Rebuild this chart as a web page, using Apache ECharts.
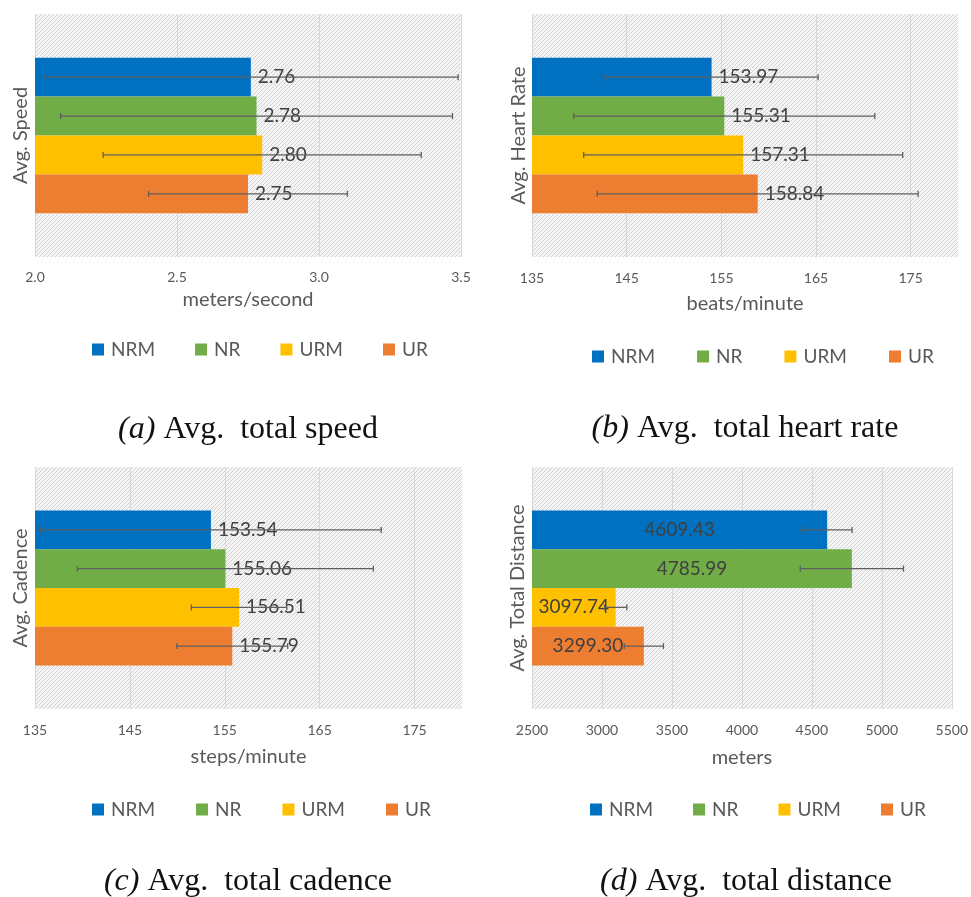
<!DOCTYPE html>
<html>
<head>
<meta charset="utf-8">
<script src="https://cdn.jsdelivr.net/npm/echarts@6/dist/echarts.min.js"></script>
<style>
html,body{margin:0;padding:0;background:#fff;}
#main{width:971px;height:897px;}
</style>
</head>
<body>
<div id="main"></div>
<script>
// ---------- data ----------
const groups = ['NRM', 'NR', 'URM', 'UR'];
const speedValues = [2.76, 2.78, 2.80, 2.75];
const speedErrors = [0.73, 0.69, 0.56, 0.35];
const heartValues = [153.97, 155.31, 157.31, 158.84];
const heartErrors = [11.25, 15.9, 16.85, 16.95];
const cadenceValues = [153.54, 155.06, 156.51, 155.79];
const cadenceErrors = [17.95, 15.6, 5.03, 5.84];
const distanceValues = [4609.43, 4785.99, 3097.74, 3299.30];
const distanceErrors = [178, 369, 80, 140];
const speedTicks = ['2.0', '2.5', '3.0', '3.5'];
const bpmTicks = ['135', '145', '155', '165', '175'];
const distanceTicks = ['2500', '3000', '3500', '4000', '4500', '5000', '5500'];
const yTitles = ['Avg. Speed', 'Avg. Heart Rate', 'Avg. Cadence', 'Avg. Total Distance'];
const xTitles = ['meters/second', 'beats/minute', 'steps/minute', 'meters'];
const captionTags = ['(a)', '(b)', '(c)', '(d)'];
const captionTexts = ['Avg.  total speed', 'Avg.  total heart rate', 'Avg.  total cadence', 'Avg.  total distance'];

// ---------- styling ----------
const colors = ['#0070C0', '#70AD47', '#FFC000', '#ED7D31'];
const FONT = 'Lato';
const GAP = 0.36;

const pat = document.createElement('canvas');
pat.width = 4; pat.height = 4;
const pctx = pat.getContext('2d');
pctx.fillStyle = '#f5f5f5'; pctx.fillRect(0, 0, 4, 4);
pctx.fillStyle = '#d2d2d2';
for (let i = 0; i < 4; i++) pctx.fillRect(i, 3 - i, 1, 1);
const hatch = {image: pat, repeat: 'repeat'};

const panels = [
  {values: speedValues, errors: speedErrors, ticks: speedTicks, min: 2.0, max: 3.5, interval: 0.5, step: 0.5,
   grid: {left: 35, top: 14, width: 426, height: 243}, nameGapX: 33, nameGapY: 4, margin: 13, inside: false,
   legend: {left: 92, top: 340, gap: 40}, caption: {x: 248, y: 430}},
  {values: heartValues, errors: heartErrors, ticks: bpmTicks, min: 135, max: 180, interval: 5, step: 10,
   grid: {left: 532, top: 14, width: 426, height: 243}, nameGapX: 37, nameGapY: 3, margin: 14, inside: false,
   legend: {left: 592, top: 347, gap: 42}, caption: {x: 745, y: 429}},
  {values: cadenceValues, errors: cadenceErrors, ticks: bpmTicks, min: 135, max: 180, interval: 5, step: 10,
   grid: {left: 35, top: 467, width: 427, height: 242}, nameGapX: 38, nameGapY: 4, margin: 14, inside: false,
   legend: {left: 92, top: 800, gap: 41}, caption: {x: 248, y: 882}},
  {values: distanceValues, errors: distanceErrors, ticks: distanceTicks, min: 2500, max: 5500, interval: 500, step: 500,
   grid: {left: 532, top: 467, width: 426, height: 242}, nameGapX: 39, nameGapY: 4, margin: 14, inside: true,
   legend: {left: 590, top: 800, gap: 40}, caption: {x: 746, y: 882}}
];

const grids = [], xAxes = [], yAxes = [], series = [], legends = [], graphics = [];
panels.forEach((p, pi) => {
  grids.push(Object.assign({show: true, backgroundColor: hatch, borderWidth: 0}, p.grid));
  const tickSet = p.ticks;
  xAxes.push({
    type: 'value', gridIndex: pi, min: p.min, max: p.max, interval: p.interval,
    name: xTitles[pi], nameLocation: 'middle', nameGap: p.nameGapX,
    nameTextStyle: {fontFamily: FONT, fontSize: 20, color: '#595959'},
    axisLine: {show: false}, axisTick: {show: false},
    axisLabel: {
      margin: p.margin, fontFamily: FONT, fontSize: 14, color: '#595959', showMaxLabel: true,
      formatter: function (v) {
        const s = p.step === 0.5 ? v.toFixed(1) : String(Math.round(v));
        return tickSet.indexOf(s) >= 0 ? s : '';
      }
    },
    splitLine: {show: true, showMinLine: true, showMaxLine: true,
      lineStyle: {color: p.interval !== p.step ? ['#d9d9d9', 'rgba(0,0,0,0)'] : '#d9d9d9', width: 1}}
  });
  yAxes.push({
    type: 'category', gridIndex: pi, data: [''],
    name: yTitles[pi], nameLocation: 'middle', nameGap: p.nameGapY,
    nameTextStyle: {fontFamily: FONT, fontSize: 20, color: '#595959'},
    axisLine: {show: false}, axisTick: {show: false}, axisLabel: {show: false}, splitLine: {show: false}
  });
  groups.forEach((g, si) => {
    series.push({
      type: 'bar', name: g, xAxisIndex: pi, yAxisIndex: pi,
      data: [p.values[si]], barGap: '0%', barCategoryGap: (GAP * 100) + '%',
      itemStyle: {color: colors[si]},
      label: {
        show: true, position: p.inside ? 'inside' : 'right', distance: 7,
        fontFamily: FONT, fontSize: 19, color: '#404040',
        formatter: function (d) { return d.value.toFixed(2); }
      },
      z: 2
    });
  });
  series.push({
    type: 'custom', xAxisIndex: pi, yAxisIndex: pi, z: 5, silent: true, clip: false,
    encode: {x: 0, y: 1},
    data: p.values.map((v, si) => [v, 0, p.errors[si], si]),
    renderItem: function (params, api) {
      const v = api.value(0), e = api.value(2), idx = api.value(3);
      const c = api.coord([v, 0]);
      const band = api.size([0, 1])[1];
      const total = band * (1 - GAP);
      const barH = total / 4;
      const y = c[1] - total / 2 + barH * (idx + 0.5);
      const x1 = api.coord([v - e, 0])[0];
      const x2 = api.coord([v + e, 0])[0];
      const st = {stroke: '#5f5f5f', lineWidth: 1.3};
      return {type: 'group', children: [
        {type: 'line', shape: {x1: x1, y1: y, x2: x2, y2: y}, style: st},
        {type: 'line', shape: {x1: x1, y1: y - 3, x2: x1, y2: y + 3}, style: st},
        {type: 'line', shape: {x1: x2, y1: y - 3, x2: x2, y2: y + 3}, style: st}
      ]};
    }
  });
  legends.push({
    data: groups, left: p.legend.left, top: p.legend.top, orient: 'horizontal',
    itemGap: p.legend.gap, itemWidth: 12, itemHeight: 12, icon: 'rect', padding: 0,
    textStyle: {fontFamily: FONT, fontSize: 19, color: '#595959', padding: [0, 0, 0, 2]},
    selectedMode: false
  });
  graphics.push({
    type: 'text', x: p.caption.x, y: p.caption.y,
    style: {
      text: '{i|' + captionTags[pi] + '} ' + captionTexts[pi],
      fontFamily: 'Liberation Serif', fontSize: 32, fill: '#111',
      textAlign: 'center', textVerticalAlign: 'middle',
      rich: {i: {fontFamily: 'Liberation Serif', fontSize: 32, fontStyle: 'italic', fill: '#111'}}
    }
  });
});

const chart = echarts.init(document.getElementById('main'), null, {renderer: 'canvas'});
chart.setOption({
  backgroundColor: '#ffffff',
  animation: false,
  grid: grids, xAxis: xAxes, yAxis: yAxes, series: series, legend: legends,
  graphic: graphics
});
</script>
</body>
</html>
